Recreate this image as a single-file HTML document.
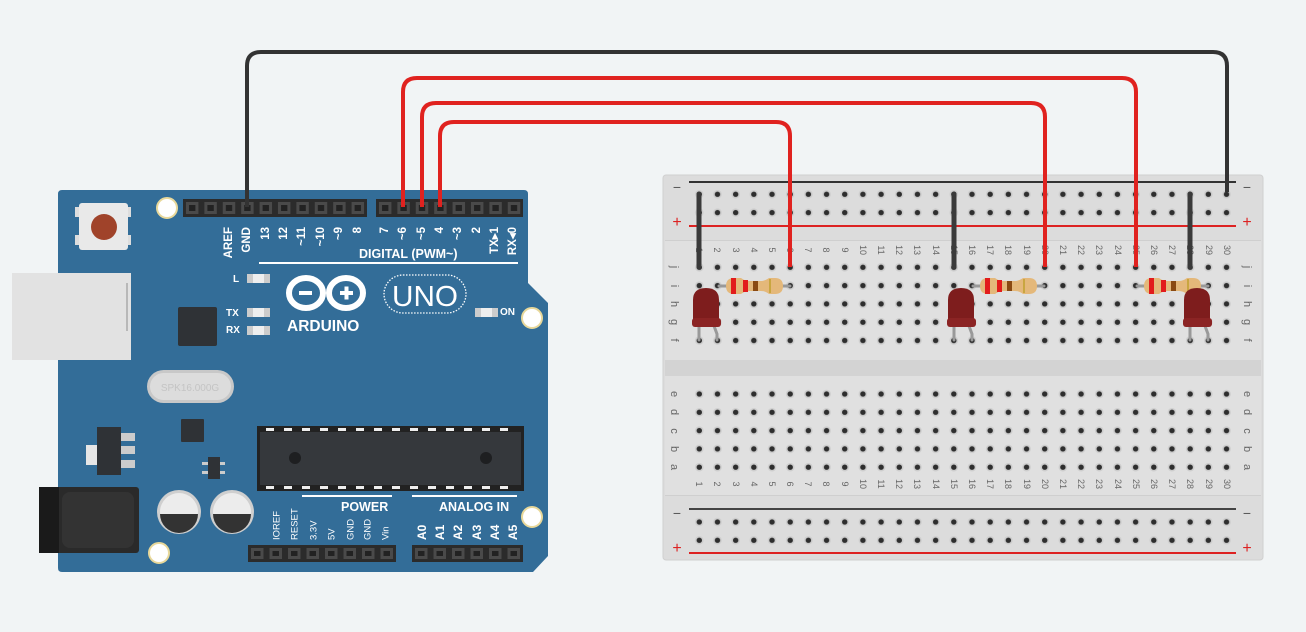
<!DOCTYPE html>
<html><head><meta charset="utf-8"><style>
html,body{margin:0;padding:0;background:#f1f4f5;}
svg{display:block;font-family:"Liberation Sans",sans-serif;}
</style></head><body>
<svg width="1306" height="632" viewBox="0 0 1306 632" xmlns="http://www.w3.org/2000/svg">
<defs>
<pattern id="hj" patternUnits="userSpaceOnUse" x="690.21" y="258.2" width="18.18" height="18.3">
<circle cx="9.09" cy="9.1" r="4.3" fill="#cdcdcd"/><circle cx="9.09" cy="9.1" r="2.7" fill="#2e2e2e"/></pattern>
<pattern id="he" patternUnits="userSpaceOnUse" x="690.21" y="384.9" width="18.18" height="18.3">
<circle cx="9.09" cy="9.1" r="4.3" fill="#cdcdcd"/><circle cx="9.09" cy="9.1" r="2.7" fill="#2e2e2e"/></pattern>
<pattern id="ht" patternUnits="userSpaceOnUse" x="690.21" y="185.2" width="18.18" height="18.3">
<circle cx="9.09" cy="9.1" r="4.3" fill="#cdcdcd"/><circle cx="9.09" cy="9.1" r="2.7" fill="#2e2e2e"/></pattern>
<pattern id="hb" patternUnits="userSpaceOnUse" x="690.21" y="512.9" width="18.18" height="18.3">
<circle cx="9.09" cy="9.1" r="4.3" fill="#cdcdcd"/><circle cx="9.09" cy="9.1" r="2.7" fill="#2e2e2e"/></pattern>
<pattern id="pin1" patternUnits="userSpaceOnUse" x="183" y="199" width="18.4" height="18">
<rect x="3" y="3" width="12.4" height="12" fill="#4a4a4a"/><rect x="6" y="6" width="6.4" height="6" fill="#222"/></pattern>
<pattern id="pin2" patternUnits="userSpaceOnUse" x="376" y="199" width="18.4" height="18">
<rect x="3" y="3" width="12.4" height="12" fill="#4a4a4a"/><rect x="6" y="6" width="6.4" height="6" fill="#222"/></pattern>
<pattern id="pin3" patternUnits="userSpaceOnUse" x="248" y="545" width="18.5" height="17">
<rect x="3" y="3" width="12.5" height="11" fill="#4a4a4a"/><rect x="6" y="6" width="6.5" height="5" fill="#222"/></pattern>
<pattern id="pin4" patternUnits="userSpaceOnUse" x="412" y="545" width="18.5" height="17">
<rect x="3" y="3" width="12.5" height="11" fill="#4a4a4a"/><rect x="6" y="6" width="6.5" height="5" fill="#222"/></pattern>
</defs>

<!-- ARDUINO -->
<rect x="72" y="262" width="20" height="110" rx="8" fill="#d9d9d9"/>
<path d="M62 190 H524 Q528 190 528 194 V283 L548 303 V556 L533 572 H62 Q58 572 58 568 V194 Q58 190 62 190Z" fill="#336d98"/>
<rect x="12" y="273" width="119" height="87" fill="#e2e2e2"/>
<rect x="126" y="283" width="2" height="48" fill="#b8b8b8"/>
<rect x="183" y="199" width="184" height="18" fill="#2b2b2b"/>
<rect x="183" y="199" width="184" height="18" fill="url(#pin1)"/>
<rect x="376" y="199" width="147" height="18" fill="#2b2b2b"/>
<rect x="376" y="199" width="147" height="18" fill="url(#pin2)"/>
<g fill="#fff" stroke="#e8d89a" stroke-width="2">
<circle cx="167" cy="208" r="10"/><circle cx="532" cy="318" r="10"/><circle cx="532" cy="517" r="10"/><circle cx="159" cy="553" r="10"/></g>
<rect x="75" y="207" width="4" height="10" fill="#ddd"/><rect x="127" y="207" width="4" height="10" fill="#ddd"/>
<rect x="75" y="235" width="4" height="10" fill="#ddd"/><rect x="127" y="235" width="4" height="10" fill="#ddd"/>
<rect x="79" y="203" width="49" height="47" rx="3" fill="#e9e9e9"/>
<circle cx="104" cy="227" r="13" fill="#a0432a"/>
<g fill="#fff" font-size="11.5" font-weight="bold" text-anchor="end" dominant-baseline="central">
<text transform="translate(229,227) rotate(-90)">AREF</text>
<text transform="translate(247,227) rotate(-90)">GND</text>
<text transform="translate(266,227) rotate(-90)">13</text>
<text transform="translate(284,227) rotate(-90)">12</text>
<text transform="translate(302,227) rotate(-90)">~11</text>
<text transform="translate(321,227) rotate(-90)">~10</text>
<text transform="translate(339,227) rotate(-90)">~9</text>
<text transform="translate(358,227) rotate(-90)">8</text>
<text transform="translate(385,227) rotate(-90)">7</text>
<text transform="translate(403,227) rotate(-90)">~6</text>
<text transform="translate(422,227) rotate(-90)">~5</text>
<text transform="translate(440,227) rotate(-90)">4</text>
<text transform="translate(458,227) rotate(-90)">~3</text>
<text transform="translate(477,227) rotate(-90)">2</text>
<text transform="translate(495,227) rotate(-90)">TX▸1</text>
<text transform="translate(513,227) rotate(-90)">RX◂0</text>
</g>
<text x="359" y="258" fill="#fff" font-size="12.5" font-weight="bold">DIGITAL (PWM~)</text>
<rect x="259" y="262" width="259" height="2" fill="#fff"/>
<g fill="#fff" font-size="10" font-weight="bold">
<text x="233" y="282">L</text><text x="226" y="316">TX</text><text x="226" y="333">RX</text><text x="500" y="315">ON</text></g>
<g fill="#ccc"><rect x="247" y="274" width="23" height="9"/><rect x="247" y="308" width="23" height="9"/><rect x="247" y="326" width="23" height="9"/><rect x="475" y="308" width="23" height="9"/></g>
<g fill="#eee"><rect x="253" y="274" width="11" height="9"/><rect x="253" y="308" width="11" height="9"/><rect x="253" y="326" width="11" height="9"/><rect x="481" y="308" width="11" height="9"/></g>
<rect x="178" y="307" width="39" height="39" rx="2" fill="#2f3236"/>
<g fill="none" stroke="#fff" stroke-width="6">
<ellipse cx="306" cy="293" rx="17" ry="15"/><ellipse cx="346" cy="293" rx="17" ry="15"/></g>
<g fill="#fff"><rect x="299" y="291" width="13" height="4"/><rect x="340" y="291" width="13" height="4"/><rect x="344.5" y="286.5" width="4" height="13"/></g>
<text x="287" y="331" fill="#fff" font-size="15.5" font-weight="bold">ARDUINO</text>
<rect x="384" y="275" width="82" height="38" rx="19" fill="none" stroke="#fff" stroke-width="1.3" stroke-dasharray="1.5 1.5"/>
<text x="425" y="306" fill="#fff" font-size="29" text-anchor="middle" textLength="66" lengthAdjust="spacingAndGlyphs">UNO</text>
<rect x="147" y="370" width="87" height="33" rx="16.5" fill="#c8c8c8"/>
<rect x="150" y="373" width="81" height="27" rx="13.5" fill="#dcdcdc"/>
<text x="190" y="391" fill="#c4c4c4" font-size="10" text-anchor="middle">SPK16.000G</text>
<rect x="181" y="419" width="23" height="23" rx="1" fill="#2f3236"/>
<rect x="86" y="445" width="12" height="20" fill="#e6e6e6"/>
<rect x="97" y="427" width="24" height="48" fill="#2f3236"/>
<g fill="#ccc"><rect x="121" y="433" width="14" height="8"/><rect x="121" y="446" width="14" height="8"/><rect x="121" y="460" width="14" height="8"/></g>
<rect x="208" y="457" width="12" height="22" fill="#2f3236"/>
<g fill="#ccc"><rect x="202" y="462" width="6" height="3"/><rect x="202" y="471" width="6" height="3"/><rect x="220" y="462" width="5" height="3"/><rect x="220" y="471" width="5" height="3"/></g>
<rect x="257" y="426" width="267" height="65" fill="#222"/>
<rect x="260" y="432" width="261" height="53" fill="#35383c"/>
<g fill="#eee">
<rect x="266" y="428" width="8" height="3"/><rect x="284" y="428" width="8" height="3"/><rect x="302" y="428" width="8" height="3"/><rect x="320" y="428" width="8" height="3"/><rect x="338" y="428" width="8" height="3"/><rect x="356" y="428" width="8" height="3"/><rect x="374" y="428" width="8" height="3"/><rect x="392" y="428" width="8" height="3"/><rect x="410" y="428" width="8" height="3"/><rect x="428" y="428" width="8" height="3"/><rect x="446" y="428" width="8" height="3"/><rect x="464" y="428" width="8" height="3"/><rect x="482" y="428" width="8" height="3"/><rect x="500" y="428" width="8" height="3"/>
<rect x="266" y="486" width="8" height="3"/><rect x="284" y="486" width="8" height="3"/><rect x="302" y="486" width="8" height="3"/><rect x="320" y="486" width="8" height="3"/><rect x="338" y="486" width="8" height="3"/><rect x="356" y="486" width="8" height="3"/><rect x="374" y="486" width="8" height="3"/><rect x="392" y="486" width="8" height="3"/><rect x="410" y="486" width="8" height="3"/><rect x="428" y="486" width="8" height="3"/><rect x="446" y="486" width="8" height="3"/><rect x="464" y="486" width="8" height="3"/><rect x="482" y="486" width="8" height="3"/><rect x="500" y="486" width="8" height="3"/></g>
<circle cx="295" cy="458" r="6" fill="#1e1f21"/><circle cx="486" cy="458" r="6" fill="#1e1f21"/>
<rect x="39" y="487" width="100" height="66" rx="3" fill="#2a2a2a"/>
<rect x="39" y="487" width="20" height="66" fill="#1a1a1a"/>
<rect x="62" y="492" width="72" height="56" rx="8" fill="#333"/>
<circle cx="179" cy="512" r="22" fill="#cfcfcf"/><circle cx="179" cy="512" r="19" fill="#ececec"/>
<path d="M160 514 H198 A19 19 0 0 1 160 514Z" fill="#333"/>
<circle cx="232" cy="512" r="22" fill="#cfcfcf"/><circle cx="232" cy="512" r="19" fill="#ececec"/>
<path d="M213 514 H251 A19 19 0 0 1 213 514Z" fill="#333"/>
<rect x="302" y="495" width="90" height="2" fill="#fff"/><rect x="412" y="495" width="105" height="2" fill="#fff"/>
<g fill="#fff" font-size="12.5" font-weight="bold"><text x="341" y="511">POWER</text><text x="439" y="511">ANALOG IN</text></g>
<g fill="#fff" font-size="9.5" dominant-baseline="central">
<text transform="translate(277,540) rotate(-90)">IOREF</text>
<text transform="translate(295,540) rotate(-90)">RESET</text>
<text transform="translate(314,540) rotate(-90)">3.3V</text>
<text transform="translate(332,540) rotate(-90)">5V</text>
<text transform="translate(351,540) rotate(-90)">GND</text>
<text transform="translate(368,540) rotate(-90)">GND</text>
<text transform="translate(386,540) rotate(-90)">Vin</text></g>
<g fill="#fff" font-size="12" font-weight="bold" dominant-baseline="central">
<text transform="translate(422,540) rotate(-90)">A0</text>
<text transform="translate(440,540) rotate(-90)">A1</text>
<text transform="translate(458,540) rotate(-90)">A2</text>
<text transform="translate(477,540) rotate(-90)">A3</text>
<text transform="translate(495,540) rotate(-90)">A4</text>
<text transform="translate(513,540) rotate(-90)">A5</text></g>
<rect x="248" y="545" width="148" height="17" fill="#2b2b2b"/><rect x="248" y="545" width="148" height="17" fill="url(#pin3)"/>
<rect x="412" y="545" width="111" height="17" fill="#2b2b2b"/><rect x="412" y="545" width="111" height="17" fill="url(#pin4)"/>

<!-- BREADBOARD -->
<rect x="663" y="175" width="600" height="385" rx="3" fill="#dcdcdc" stroke="#d0d0d0"/>
<rect x="665" y="241" width="596" height="119" fill="#e0e0e0"/>
<rect x="665" y="360" width="596" height="16" fill="#d3d3d3"/>
<rect x="665" y="376" width="596" height="119" fill="#e0e0e0"/>
<rect x="665" y="240" width="596" height="1" fill="#cfcfcf"/><rect x="665" y="495" width="596" height="1" fill="#cfcfcf"/>
<rect x="689" y="181" width="547" height="2" fill="#333"/>
<rect x="689" y="225" width="547" height="2" fill="#d22"/>
<rect x="689" y="508" width="547" height="2" fill="#444"/>
<rect x="689" y="552" width="547" height="2" fill="#d22"/>
<rect x="690" y="185" width="546" height="37" fill="url(#ht)"/>
<rect x="690" y="258" width="546" height="92" fill="url(#hj)"/>
<rect x="690" y="385" width="546" height="92" fill="url(#he)"/>
<rect x="690" y="513" width="546" height="37" fill="url(#hb)"/>
<g font-size="14" fill="#555" text-anchor="middle"><text x="677" y="192">−</text><text x="1247" y="192">−</text><text x="677" y="518">−</text><text x="1247" y="518">−</text></g>
<g font-size="16" fill="#d22" text-anchor="middle"><text x="677" y="227">+</text><text x="1247" y="227">+</text><text x="677" y="553">+</text><text x="1247" y="553">+</text></g>
<g font-size="11" fill="#666" dominant-baseline="central" text-anchor="middle">
<text transform="translate(674,267) rotate(90)">j</text><text transform="translate(674,286) rotate(90)">i</text><text transform="translate(674,304) rotate(90)">h</text><text transform="translate(674,322) rotate(90)">g</text><text transform="translate(674,340) rotate(90)">f</text>
<text transform="translate(1247,267) rotate(90)">j</text><text transform="translate(1247,286) rotate(90)">i</text><text transform="translate(1247,304) rotate(90)">h</text><text transform="translate(1247,322) rotate(90)">g</text><text transform="translate(1247,340) rotate(90)">f</text>
<text transform="translate(674,394) rotate(90)">e</text><text transform="translate(674,412) rotate(90)">d</text><text transform="translate(674,431) rotate(90)">c</text><text transform="translate(674,449) rotate(90)">b</text><text transform="translate(674,467) rotate(90)">a</text>
<text transform="translate(1247,394) rotate(90)">e</text><text transform="translate(1247,412) rotate(90)">d</text><text transform="translate(1247,431) rotate(90)">c</text><text transform="translate(1247,449) rotate(90)">b</text><text transform="translate(1247,467) rotate(90)">a</text>
</g>
<g font-size="9" fill="#666" dominant-baseline="central" text-anchor="middle">
<text transform="translate(699,250) rotate(90)">1</text><text transform="translate(717,250) rotate(90)">2</text><text transform="translate(736,250) rotate(90)">3</text><text transform="translate(754,250) rotate(90)">4</text><text transform="translate(772,250) rotate(90)">5</text><text transform="translate(790,250) rotate(90)">6</text><text transform="translate(808,250) rotate(90)">7</text><text transform="translate(826,250) rotate(90)">8</text><text transform="translate(845,250) rotate(90)">9</text><text transform="translate(863,250) rotate(90)">10</text><text transform="translate(881,250) rotate(90)">11</text><text transform="translate(899,250) rotate(90)">12</text><text transform="translate(917,250) rotate(90)">13</text><text transform="translate(936,250) rotate(90)">14</text><text transform="translate(954,250) rotate(90)">15</text><text transform="translate(972,250) rotate(90)">16</text><text transform="translate(990,250) rotate(90)">17</text><text transform="translate(1008,250) rotate(90)">18</text><text transform="translate(1027,250) rotate(90)">19</text><text transform="translate(1045,250) rotate(90)">20</text><text transform="translate(1063,250) rotate(90)">21</text><text transform="translate(1081,250) rotate(90)">22</text><text transform="translate(1099,250) rotate(90)">23</text><text transform="translate(1118,250) rotate(90)">24</text><text transform="translate(1136,250) rotate(90)">25</text><text transform="translate(1154,250) rotate(90)">26</text><text transform="translate(1172,250) rotate(90)">27</text><text transform="translate(1190,250) rotate(90)">28</text><text transform="translate(1209,250) rotate(90)">29</text><text transform="translate(1227,250) rotate(90)">30</text>
<text transform="translate(699,484) rotate(90)">1</text><text transform="translate(717,484) rotate(90)">2</text><text transform="translate(736,484) rotate(90)">3</text><text transform="translate(754,484) rotate(90)">4</text><text transform="translate(772,484) rotate(90)">5</text><text transform="translate(790,484) rotate(90)">6</text><text transform="translate(808,484) rotate(90)">7</text><text transform="translate(826,484) rotate(90)">8</text><text transform="translate(845,484) rotate(90)">9</text><text transform="translate(863,484) rotate(90)">10</text><text transform="translate(881,484) rotate(90)">11</text><text transform="translate(899,484) rotate(90)">12</text><text transform="translate(917,484) rotate(90)">13</text><text transform="translate(936,484) rotate(90)">14</text><text transform="translate(954,484) rotate(90)">15</text><text transform="translate(972,484) rotate(90)">16</text><text transform="translate(990,484) rotate(90)">17</text><text transform="translate(1008,484) rotate(90)">18</text><text transform="translate(1027,484) rotate(90)">19</text><text transform="translate(1045,484) rotate(90)">20</text><text transform="translate(1063,484) rotate(90)">21</text><text transform="translate(1081,484) rotate(90)">22</text><text transform="translate(1099,484) rotate(90)">23</text><text transform="translate(1118,484) rotate(90)">24</text><text transform="translate(1136,484) rotate(90)">25</text><text transform="translate(1154,484) rotate(90)">26</text><text transform="translate(1172,484) rotate(90)">27</text><text transform="translate(1190,484) rotate(90)">28</text><text transform="translate(1209,484) rotate(90)">29</text><text transform="translate(1227,484) rotate(90)">30</text>
</g>

<g stroke="#3a3a3a" stroke-width="5" stroke-linecap="round">
<line x1="699" y1="194" x2="699" y2="267"/><line x1="954" y1="194" x2="954" y2="267"/><line x1="1190" y1="194" x2="1190" y2="267"/></g>

<!-- resistors -->
<g id="r1">
<line x1="719" y1="286" x2="790" y2="286" stroke="#999" stroke-width="3" stroke-linecap="round"/>
<path d="M726 286 Q726 278 734 278 H741 Q745 281 749 281 H761 Q765 281 769 278 H775 Q783 278 783 286 Q783 294 775 294 H769 Q765 291 761 291 H749 Q745 291 741 294 H734 Q726 294 726 286Z" fill="#e4b87a"/>
<rect x="731" y="278" width="5" height="16" fill="#e21c1c"/><rect x="743" y="280" width="5" height="12" fill="#e21c1c"/><rect x="753" y="281" width="5" height="10" fill="#8a4a12"/><rect x="769" y="279" width="2" height="14" fill="#c9a640"/>
</g>
<use href="#r1" transform="translate(254,0)"/>
<use href="#r1" transform="translate(418,0)"/>

<!-- LEDs -->
<g id="led">
<path d="M699 326 V340 M714 326 L717 334 V340" stroke="#999" stroke-width="3" fill="none" stroke-linecap="round"/>
<path d="M693 326 V300 Q693 288 706 288 Q719 288 719 300 V326Z" fill="#7e1d1d"/>
<rect x="692" y="318" width="29" height="9" rx="3" fill="#8b2424"/>
</g>
<use href="#led" transform="translate(255,0)"/>
<use href="#led" transform="translate(491,0)"/>

<g fill="none" stroke-width="4" stroke-linejoin="round">
<path d="M247 207 V66 Q247 52 261 52 H1213 Q1227 52 1227 66 V192" stroke="#333"/>
<path d="M403 207 V92 Q403 78 417 78 H1122 Q1136 78 1136 92 V267" stroke="#e0221f"/>
<path d="M422 207 V117 Q422 103 436 103 H1031 Q1045 103 1045 117 V267" stroke="#e0221f"/>
<path d="M440 207 V136 Q440 122 454 122 H776 Q790 122 790 136 V267" stroke="#e0221f"/>
</g>
</svg>
</body></html>
